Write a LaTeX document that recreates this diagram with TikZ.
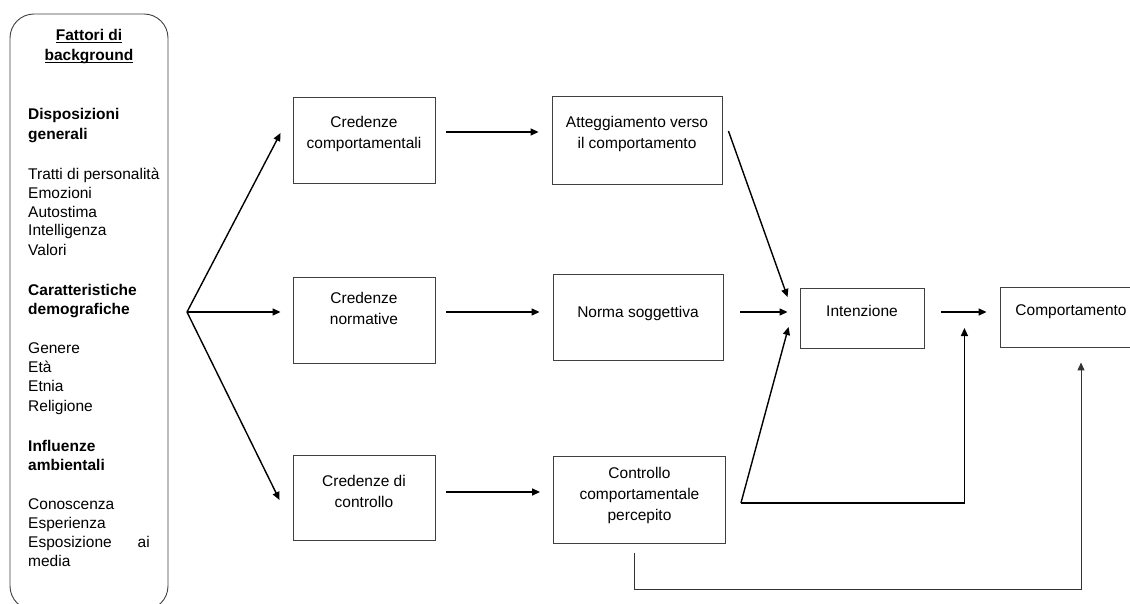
\documentclass[tikz,border=0pt]{standalone}
\usepackage{fontspec}
\setmainfont{Liberation Sans}
\usetikzlibrary{arrows.meta,calc}
\newcommand\myul[1]{\setbox0\hbox{#1}\rlap{\rule[-2pt]{\wd0}{0.9pt}}\box0}
\begin{document}
\begin{tikzpicture}[x=1pt,y=-1pt,
  box/.style={draw=black!75, line width=0.9pt, inner sep=0pt},
  txt/.style={align=center, font=\fontsize{15.5}{21}\selectfont, inner sep=0pt},
  lt/.style={anchor=base west, inner sep=0pt, font=\fontsize{15.5}{19}\selectfont},
  lb/.style={lt, font=\fontsize{15.5}{19}\selectfont\bfseries},
  arr/.style={line width=1.4pt, -{Triangle[length=8pt,width=7pt]}},
  arrthin/.style={line width=1pt, draw=black!80, -{Triangle[length=8pt,width=7pt]}},
  ]
\useasboundingbox (0,0) rectangle (1130,604);
\clip (0,0) rectangle (1130,604);

% left panel
\node[box, rounded corners=24pt, minimum width=158pt, minimum height=596pt] (bg) at (89,312) {};
\node[lb, anchor=base] (h1) at (89,40.5) {\myul{Fattori di}};
\node[lb, anchor=base] (h2) at (89,61) {\myul{background}};
\node[lb] (d1) at (28,120) {Disposizioni};
\node[lb] (d2) at (28,140) {generali};
\node[lt] (t1) at (28,180) {Tratti di personalità};
\node[lt] (t2) at (28,199) {Emozioni};
\node[lt] (t3) at (28,217.5) {Autostima};
\node[lt] (t4) at (28,236) {Intelligenza};
\node[lt] (t5) at (28,255) {Valori};
\node[lb] (c1) at (28,295) {Caratteristiche};
\node[lb] (c2) at (28,314) {demografiche};
\node[lt] (g1) at (28,353) {Genere};
\node[lt] (g2) at (28,372) {Età};
\node[lt] (g3) at (28,391.5) {Etnia};
\node[lt] (g4) at (28,411) {Religione};
\node[lb] (i1) at (28,451) {Influenze};
\node[lb] (i2) at (28,470) {ambientali};
\node[lt] (k1) at (28,509) {Conoscenza};
\node[lt] (k2) at (28,528) {Esperienza};
\node[lt] (k3) at (28,547) {Esposizione};
\node[lt, anchor=base east] (k3b) at (150,547) {ai};
\node[lt] (k4) at (28,566) {media};

% boxes
\node[box, minimum width=142pt, minimum height=86pt] (cc) at (364,140) {};
\node[box, minimum width=170pt, minimum height=88pt] (att) at (637,140) {};
\node[box, minimum width=142pt, minimum height=86pt] (cn) at (364,320) {};
\node[box, minimum width=170pt, minimum height=86pt] (ns) at (638,317) {};
\node[box, minimum width=142pt, minimum height=85pt] (cdc) at (364,497.5) {};
\node[box, minimum width=172pt, minimum height=87pt] (ccp) at (639.5,499.5) {};
\node[box, minimum width=124pt, minimum height=60pt] (int) at (862,318) {};
\node[box, minimum width=142pt, minimum height=60pt] (comp) at (1071,317) {};

% texts
\node[txt] (cct) at (364,134) {Credenze\\comportamentali};
\node[txt] (attt) at (637,134) {Atteggiamento verso\\il comportamento};
\node[txt] (cnt) at (364,308) {Credenze\\normative};
\node[txt] (nst) at (638,313) {Norma soggettiva};
\node[txt] (cdct) at (364,491) {Credenze di\\controllo};
\node[txt] (ccpt) at (639.5,495) {Controllo\\comportamentale\\percepito};
\node[txt] (intt) at (862,311) {Intenzione};
\node[txt] (compt) at (1071,312) {Comportamento};

% connectors
\coordinate (S) at (187,312);
\draw[arr] (S) -- ($(cc.west)+(-12,-7)$);
\draw[arr] (S) -- ($(cn.west)+(-12,-8)$);
\draw[arr] (S) -- ($(cdc.west)+(-13,2.5)$);
\draw[arr] ($(cc.east)+(11,-8)$) -- ($(att.west)+(-13,-8)$);
\draw[arr] ($(cn.east)+(11,-8)$) -- ($(ns.west)+(-13,-5)$);
\draw[arr] ($(cdc.east)+(11,-5.5)$) -- ($(ccp.west)+(-13,-7.5)$);
\draw[arr] ($(att.east)+(6,-9)$) -- ($(int.west)+(-12,-21)$);
\draw[arr] ($(ns.east)+(17,-5)$) -- ($(int.west)+(-12,-6)$);
\coordinate (P) at ($(ccp.east)+(15,3.5)$);
\draw[arr] (P) -- ($(int.west)+(-11,9)$);
\coordinate (Q) at ($(int.east)+(40,10)$);
\draw[arr] (P) -| (Q);
\draw[arr] ($(int.east)+(17,-6)$) -- ($(comp.west)+(-13,-5)$);
\coordinate (A) at ($(ccp.south)+(-5.5,10)$);
\coordinate (B) at ($(comp.south)+(10,15)$);
\coordinate (C) at (B |- 0,589);
\draw[arrthin] (A) |- (C) -- (B);
\end{tikzpicture}
\end{document}
